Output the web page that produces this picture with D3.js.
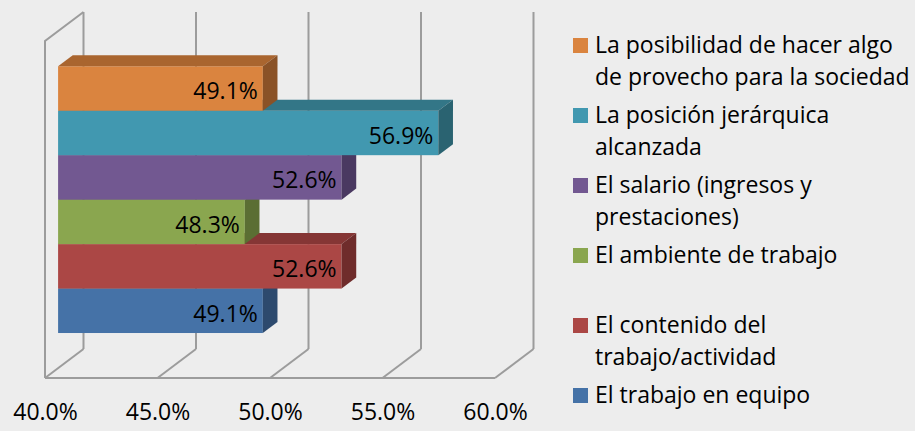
<!DOCTYPE html>
<html>
<head>
<meta charset="utf-8">
<script src="https://cdn.jsdelivr.net/npm/d3@7"></script>
<style>
  body { margin: 0; background: #ededed; }
  svg { display: block; font-family: "Open Sans", sans-serif; }
</style>
</head>
<body>
<svg id="chart" width="915" height="431"></svg>
<script>
// series, top bar first
let series = ["posibilidad", "posicion", "salario", "ambiente", "contenido", "equipo"];
let values = [49.1, 56.9, 52.6, 48.3, 52.6, 49.1];
let legendLines = [
  ["La posibilidad de hacer algo", "de provecho para la sociedad"],
  ["La posición jerárquica", "alcanzada"],
  ["El salario (ingresos y", "prestaciones)"],
  ["El ambiente de trabajo"],
  ["El contenido del", "trabajo/actividad"],
  ["El trabajo en equipo"]
];
let ticks = [40, 45, 50, 55, 60];

let colors = {
  posibilidad: ["#da843f", "#a9652f", "#8a5227"],
  posicion:    ["#4198b0", "#337687", "#2a6371"],
  salario:     ["#725891", "#584473", "#4a3961"],
  ambiente:    ["#8aa64f", "#6b823c", "#5b6e33"],
  contenido:   ["#ab4745", "#853635", "#6f2c2b"],
  equipo:      ["#4572a7", "#365a84", "#2d4a6e"]
};

let svg = d3.select("#chart");

// front plane of the box
let x = d3.scaleLinear().domain([40, 60]).range([45, 495]);
let y = d3.scaleBand().domain(series).range([41, 378]).paddingInner(0).paddingOuter(0.79);
let depthX = 38.5, depthY = -29;
let d0 = 0.34, d1 = 0.72;   // bar depth inside the box
let yTop = 41, yBot = 378;

let grid = svg.append("g")
    .attr("stroke", "#9c9c9c")
    .attr("stroke-width", 2)
    .attr("fill", "none");

// back wall verticals
grid.selectAll("line.back").data(ticks).join("line")
    .attr("x1", d => x(d) + depthX).attr("x2", d => x(d) + depthX)
    .attr("y1", yTop + depthY).attr("y2", yBot + depthY);
// floor diagonals
grid.selectAll("line.floor").data(ticks).join("line")
    .attr("x1", d => x(d)).attr("y1", yBot)
    .attr("x2", d => x(d) + depthX).attr("y2", yBot + depthY);
// floor front edge
grid.append("line")
    .attr("x1", x(40)).attr("x2", x(60))
    .attr("y1", yBot).attr("y2", yBot);
// left wall
grid.append("path")
    .attr("d", `M${x(40) + depthX},${yTop + depthY} L${x(40)},${yTop} L${x(40)},${yBot}`);

// bars, drawn bottom to top
let bars = series.map((s, i) => ({ s: s, v: values[i], i: i })).reverse();
let ox0 = depthX * d0, oy0 = depthY * d0, ox1 = depthX * d1, oy1 = depthY * d1;

let bar = svg.append("g").selectAll("g").data(bars).join("g");

bar.append("rect")
    .attr("x", x(40) + ox0)
    .attr("y", d => y(d.s) + oy0)
    .attr("width", d => x(d.v) - x(40))
    .attr("height", y.bandwidth())
    .attr("fill", d => colors[d.s][0]);

bar.append("path")
    .attr("fill", d => colors[d.s][1])
    .attr("d", d => {
      let t = y(d.s);
      return `M${x(40) + ox0},${t + oy0} L${x(d.v) + ox0},${t + oy0} L${x(d.v) + ox1},${t + oy1} L${x(40) + ox1},${t + oy1}Z`;
    });

bar.append("path")
    .attr("fill", d => colors[d.s][2])
    .attr("d", d => {
      let t = y(d.s), b = t + y.bandwidth();
      return `M${x(d.v) + ox0},${t + oy0} L${x(d.v) + ox1},${t + oy1} L${x(d.v) + ox1},${b + oy1} L${x(d.v) + ox0},${b + oy0}Z`;
    });

bar.append("text")
    .attr("x", d => x(d.v) + ox0 - 5)
    .attr("y", d => y(d.s) + oy0 + y.bandwidth() / 2 + 2)
    .attr("text-anchor", "end")
    .attr("dominant-baseline", "central")
    .attr("font-size", 23)
    .attr("fill", "#000")
    .text(d => d.v.toFixed(1) + "%");

// x axis labels
let axis = svg.append("g")
    .attr("transform", `translate(0,${yBot})`)
    .call(d3.axisBottom(x).tickValues(ticks).tickSize(0).tickFormat(d => d.toFixed(1) + "%"));
axis.select(".domain").remove();
axis.selectAll("text")
    .attr("y", 42).attr("dy", 0)
    .attr("font-size", 23)
    .attr("font-family", "Open Sans, sans-serif")
    .attr("fill", "#000");

// legend
let legend = svg.append("g").selectAll("g").data(series).join("g")
    .attr("transform", (d, i) => `translate(573,${53 + i * 70})`);
legend.append("rect")
    .attr("x", 0).attr("y", -15)
    .attr("width", 15).attr("height", 15)
    .attr("fill", d => colors[d][0]);
legend.append("text")
    .attr("font-size", 23)
    .attr("fill", "#000")
    .selectAll("tspan").data((d, i) => legendLines[i]).join("tspan")
    .attr("x", 22)
    .attr("dy", (d, j) => j === 0 ? 0 : 32)
    .text(d => d);
</script>
</body>
</html>
